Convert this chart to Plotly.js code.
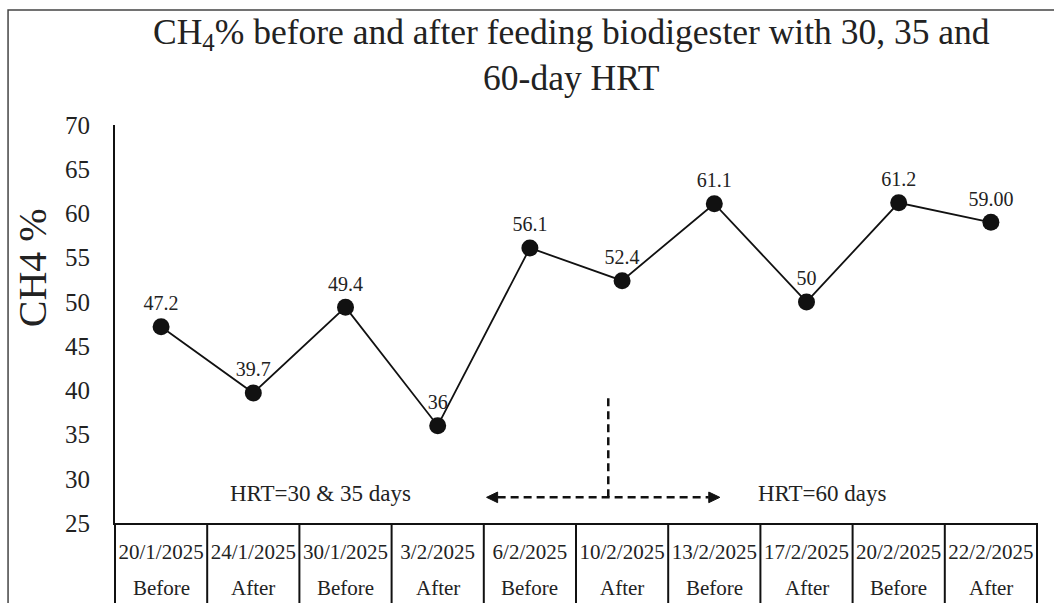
<!DOCTYPE html>
<html>
<head>
<meta charset="utf-8">
<script src="https://cdn.plot.ly/plotly-3.0.1.min.js"></script>
<style>html,body{margin:0;padding:0;background:#fff;}#chart{width:1054px;height:603px;}</style>
</head>
<body>
<div id="chart"></div>
<script>
const dates = ["20/1/2025","24/1/2025","30/1/2025","3/2/2025","6/2/2025","10/2/2025","13/2/2025","17/2/2025","20/2/2025","22/2/2025"];
const phases = ["Before","After","Before","After","Before","After","Before","After","Before","After"];
const ch4 = [47.2, 39.7, 49.4, 36, 56.1, 52.4, 61.1, 50, 61.2, 59.00];
const pointLabels = ["47.2","39.7","49.4","36","56.1","52.4","61.1","50","61.2","59.00"];
const yTicks = [25,30,35,40,45,50,55,60,65,70];
const titleText = "CH<sub>4</sub>% before and after feeding biodigester with 30, 35 and<br>60-day HRT";

const FONT = "Liberation Serif, Times New Roman, serif";
const n = dates.length;

const trace = {
  x: dates, y: ch4, type: "scatter", mode: "lines+markers+text",
  text: pointLabels, textposition: "top center",
  textfont: {family: FONT, size: 20, color: "#222"},
  line: {color: "#111", width: 1.8},
  marker: {color: "#111", size: 17},
  cliponaxis: false, hoverinfo: "skip"
};

const shapes = [];
// outer border (left + top)
shapes.push({type:"rect", xref:"paper", yref:"paper", x0:-0.116, x1:1.05, y0:-0.3, y1:1.289,
  line:{color:"#444", width:1.5}, layer:"below"});
// table column dividers
for (let k = 0; k <= n; k++) {
  shapes.push({type:"line", xref:"paper", yref:"paper", x0:k/n, x1:k/n, y0:0, y1:-0.3,
    line:{color:"#111", width:2}});
}
// dashed separator + double arrow
const arrowY = 27.9, arrowL = 3.53, arrowR = 6.06, sepX = 4.85, sepTop = 39.5;
const headLen = 0.12, headHalf = 0.6;
shapes.push({type:"line", xref:"x", yref:"y", x0:sepX, x1:sepX, y0:arrowY, y1:sepTop,
  line:{color:"#111", width:2.5, dash:"8px,5px"}});
shapes.push({type:"line", xref:"x", yref:"y", x0:arrowL+headLen, x1:arrowR-headLen, y0:arrowY, y1:arrowY,
  line:{color:"#111", width:2.5, dash:"8px,5px"}});
shapes.push({type:"path", xref:"x", yref:"y",
  path:`M ${arrowL},${arrowY} L ${arrowL+headLen},${arrowY+headHalf} L ${arrowL+headLen},${arrowY-headHalf} Z`,
  fillcolor:"#111", line:{color:"#111", width:1}});
shapes.push({type:"path", xref:"x", yref:"y",
  path:`M ${arrowR},${arrowY} L ${arrowR-headLen},${arrowY+headHalf} L ${arrowR-headLen},${arrowY-headHalf} Z`,
  fillcolor:"#111", line:{color:"#111", width:1}});

const annotations = [];
phases.forEach((p, i) => {
  annotations.push({x: dates[i], xref:"x", y:-0.163, yref:"paper", text:p, showarrow:false,
    font:{family:FONT, size:21, color:"#222"}, yanchor:"middle"});
});
annotations.push({x:1.73, y:28.3, xref:"x", yref:"y", text:"HRT=30 &amp; 35 days", showarrow:false,
  font:{family:FONT, size:23, color:"#222"}});
annotations.push({x:7.17, y:28.3, xref:"x", yref:"y", text:"HRT=60 days", showarrow:false,
  font:{family:FONT, size:23, color:"#222"}});
annotations.push({x:-0.09, xref:"paper", y:0.64, yref:"paper", text:"CH4 %", textangle:-90, showarrow:false,
  font:{family:FONT, size:40, color:"#222"}, xanchor:"center", yanchor:"middle"});
annotations.push({x:0.495, xref:"paper", y:1.29, yref:"paper", text:titleText, showarrow:false,
  font:{family:FONT, size:35.5, color:"#222"}, xanchor:"center", yanchor:"top", align:"center"});

const layout = {
  width:1054, height:603,
  margin:{l:115, r:17, t:125, b:80},
  paper_bgcolor:"#fff", plot_bgcolor:"#fff",
  showlegend:false,
  font:{family:FONT, color:"#222"},
  xaxis:{type:"category", range:[-0.5, n-0.5], showline:true, linecolor:"#111", linewidth:2,
    ticks:"", showgrid:false, zeroline:false, tickfont:{family:FONT, size:21, color:"#222"},
    ticklabelstandoff:9, fixedrange:true},
  yaxis:{range:[25,70], tickvals:yTicks, showline:true, linecolor:"#111", linewidth:2,
    ticks:"", showgrid:false, zeroline:false, tickfont:{family:FONT, size:25, color:"#222"},
    ticklabelstandoff:18, fixedrange:true},
  shapes: shapes,
  annotations: annotations
};

Plotly.newPlot("chart", [trace], layout, {displayModeBar:false, staticPlot:true});
</script>
</body>
</html>
